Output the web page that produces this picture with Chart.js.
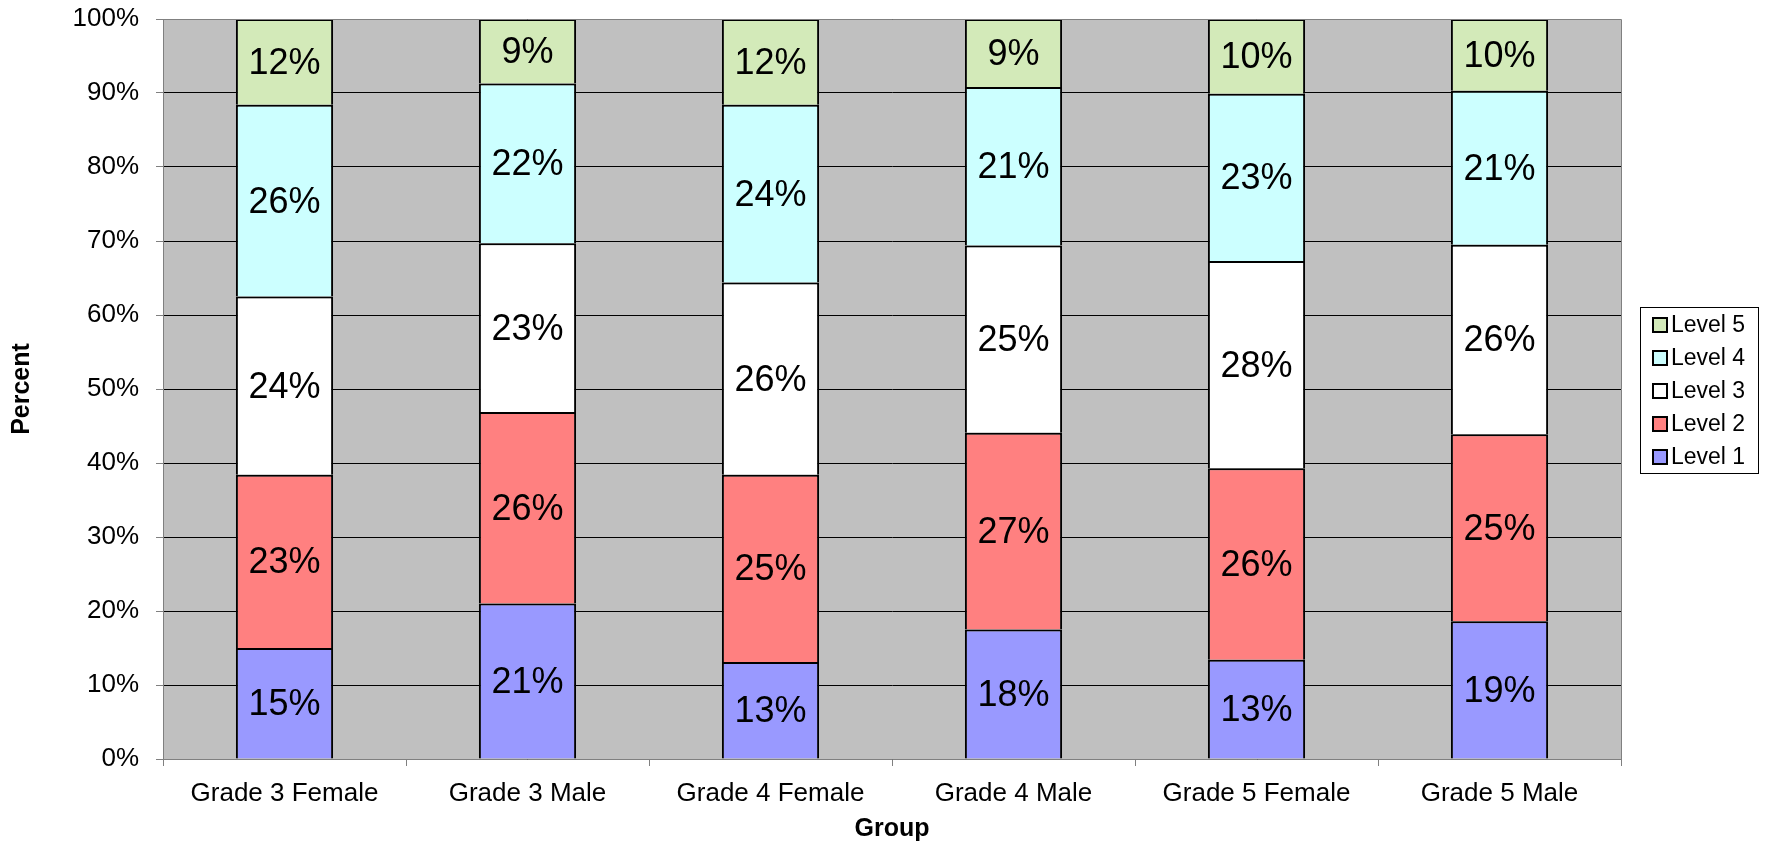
<!DOCTYPE html>
<html>
<head>
<meta charset="utf-8">
<script src="https://cdn.jsdelivr.net/npm/chart.js"></script>
<style>
  body { margin: 0; background: #fff; }
</style>
</head>
<body>
<canvas id="bar-chart" width="1767" height="842"></canvas>
<script>
const groups = ["Grade 3 Female", "Grade 3 Male", "Grade 4 Female", "Grade 4 Male", "Grade 5 Female", "Grade 5 Male"];
const level1 = [15.0, 21.0, 13.1, 17.5, 13.4, 18.6];
const level2 = [23.4, 25.9, 25.3, 26.6, 25.9, 25.3];
const level3 = [24.1, 22.8, 26.0, 25.3, 28.0, 25.6];
const level4 = [25.9, 21.6, 24.0, 21.4, 22.6, 20.8];
const level5 = [11.6, 8.7, 11.6, 9.2, 10.1, 9.7];
const yTicks = [0, 10, 20, 30, 40, 50, 60, 70, 80, 90, 100];

const FONT = "'Liberation Sans', Arial, sans-serif";

// gray plot background + gray frame
const plotBg = {
  id: 'plotBg',
  beforeDraw(chart) {
    const a = chart.chartArea, c = chart.ctx;
    c.save();
    c.fillStyle = '#C0C0C0';
    c.fillRect(a.left, a.top, a.right - a.left, a.bottom - a.top);
    c.restore();
  },
  afterDraw(chart) {
    const a = chart.chartArea, c = chart.ctx;
    c.save();
    c.strokeStyle = '#808080';
    c.lineWidth = 1;
    c.beginPath();
    c.moveTo(a.left, a.top + 0.5);
    c.lineTo(a.right + 0.5, a.top + 0.5);
    c.lineTo(a.right + 0.5, a.bottom);
    c.stroke();
    c.restore();
  }
};

// percent labels in the middle of each segment
const segLabels = {
  id: 'segLabels',
  afterDatasetsDraw(chart) {
    const c = chart.ctx;
    c.save();
    c.font = '36px ' + FONT;
    c.fillStyle = '#000';
    c.textAlign = 'center';
    c.textBaseline = 'middle';
    chart.data.datasets.forEach((ds, i) => {
      chart.getDatasetMeta(i).data.forEach((bar, j) => {
        const p = bar.getProps(['x', 'y', 'base'], true);
        c.fillText(Math.round(ds.data[j]) + '%', p.x, (p.y + p.base) / 2 + 2);
      });
    });
    c.restore();
  }
};

// boxed legend on the right, Level 5 on top
const boxLegend = {
  id: 'boxLegend',
  afterDraw(chart) {
    const c = chart.ctx;
    const x = 1640, y = 307, w = 118, h = 166;
    c.save();
    c.fillStyle = '#fff';
    c.fillRect(x, y, w, h);
    c.strokeStyle = '#000';
    c.lineWidth = 1;
    c.strokeRect(x + 0.5, y + 0.5, w, h);
    c.font = '23px ' + FONT;
    c.textBaseline = 'middle';
    const sets = chart.data.datasets.slice().reverse();
    sets.forEach((ds, k) => {
      const cy = 325 + k * 33;
      c.fillStyle = ds.backgroundColor;
      c.fillRect(1653, cy - 7, 14, 14);
      c.lineWidth = 2;
      c.strokeRect(1653, cy - 7, 14, 14);
      c.fillStyle = '#000';
      c.fillText(ds.label, 1671, cy + 1);
    });
    c.restore();
  }
};

function seg(label, data, color) {
  return {
    label: label,
    data: data,
    backgroundColor: color,
    borderColor: '#000',
    borderWidth: { top: 2, bottom: 0, left: 2, right: 2 },
    borderSkipped: false,
    barPercentage: 0.4,
    categoryPercentage: 1.0
  };
}

new Chart(document.getElementById("bar-chart"), {
  type: 'bar',
  data: {
    labels: groups,
    datasets: [
      seg("Level 1", level1, "#9999FF"),
      seg("Level 2", level2, "#FF8080"),
      seg("Level 3", level3, "#FFFFFF"),
      seg("Level 4", level4, "#CCFFFF"),
      seg("Level 5", level5, "#D3EAB9")
    ]
  },
  plugins: [plotBg, segLabels, boxLegend],
  options: {
    responsive: false,
    animation: false,
    layout: { padding: { top: 19, right: 146, left: 0, bottom: 0 } },
    plugins: {
      legend: { display: false },
      tooltip: { enabled: false }
    },
    scales: {
      x: {
        stacked: true,
        grid: { offset: true, drawOnChartArea: false, tickLength: 7, color: '#808080' },
        border: { color: '#808080', width: 1 },
        ticks: { color: '#000', font: { family: FONT, size: 26 }, padding: 12, maxRotation: 0 },
        title: { display: true, text: 'Group', color: '#000', font: { family: FONT, size: 25, weight: 'bold', lineHeight: 1.0 }, padding: { top: 0, bottom: 0 } },
        afterFit(scale) { scale.height = 83; scale.paddingLeft = 0; scale.paddingRight = 0; }
      },
      y: {
        stacked: true,
        min: 0,
        max: 100,
        afterBuildTicks(scale) { scale.ticks = yTicks.map(v => ({ value: v })); },
        grid: { color: '#000', lineWidth: 1, tickLength: 7, tickColor: '#808080' },
        border: { color: '#808080', width: 1 },
        ticks: { color: '#000', font: { family: FONT, size: 26 }, padding: 17, callback: v => v + '%' },
        title: { display: true, text: 'Percent', color: '#000', font: { family: FONT, size: 25, weight: 'bold' }, padding: { top: 7, bottom: 0 } },
        afterFit(scale) { scale.width = 163; scale.paddingTop = 0; scale.paddingBottom = 0; }
      }
    }
  }
});
</script>
</body>
</html>
